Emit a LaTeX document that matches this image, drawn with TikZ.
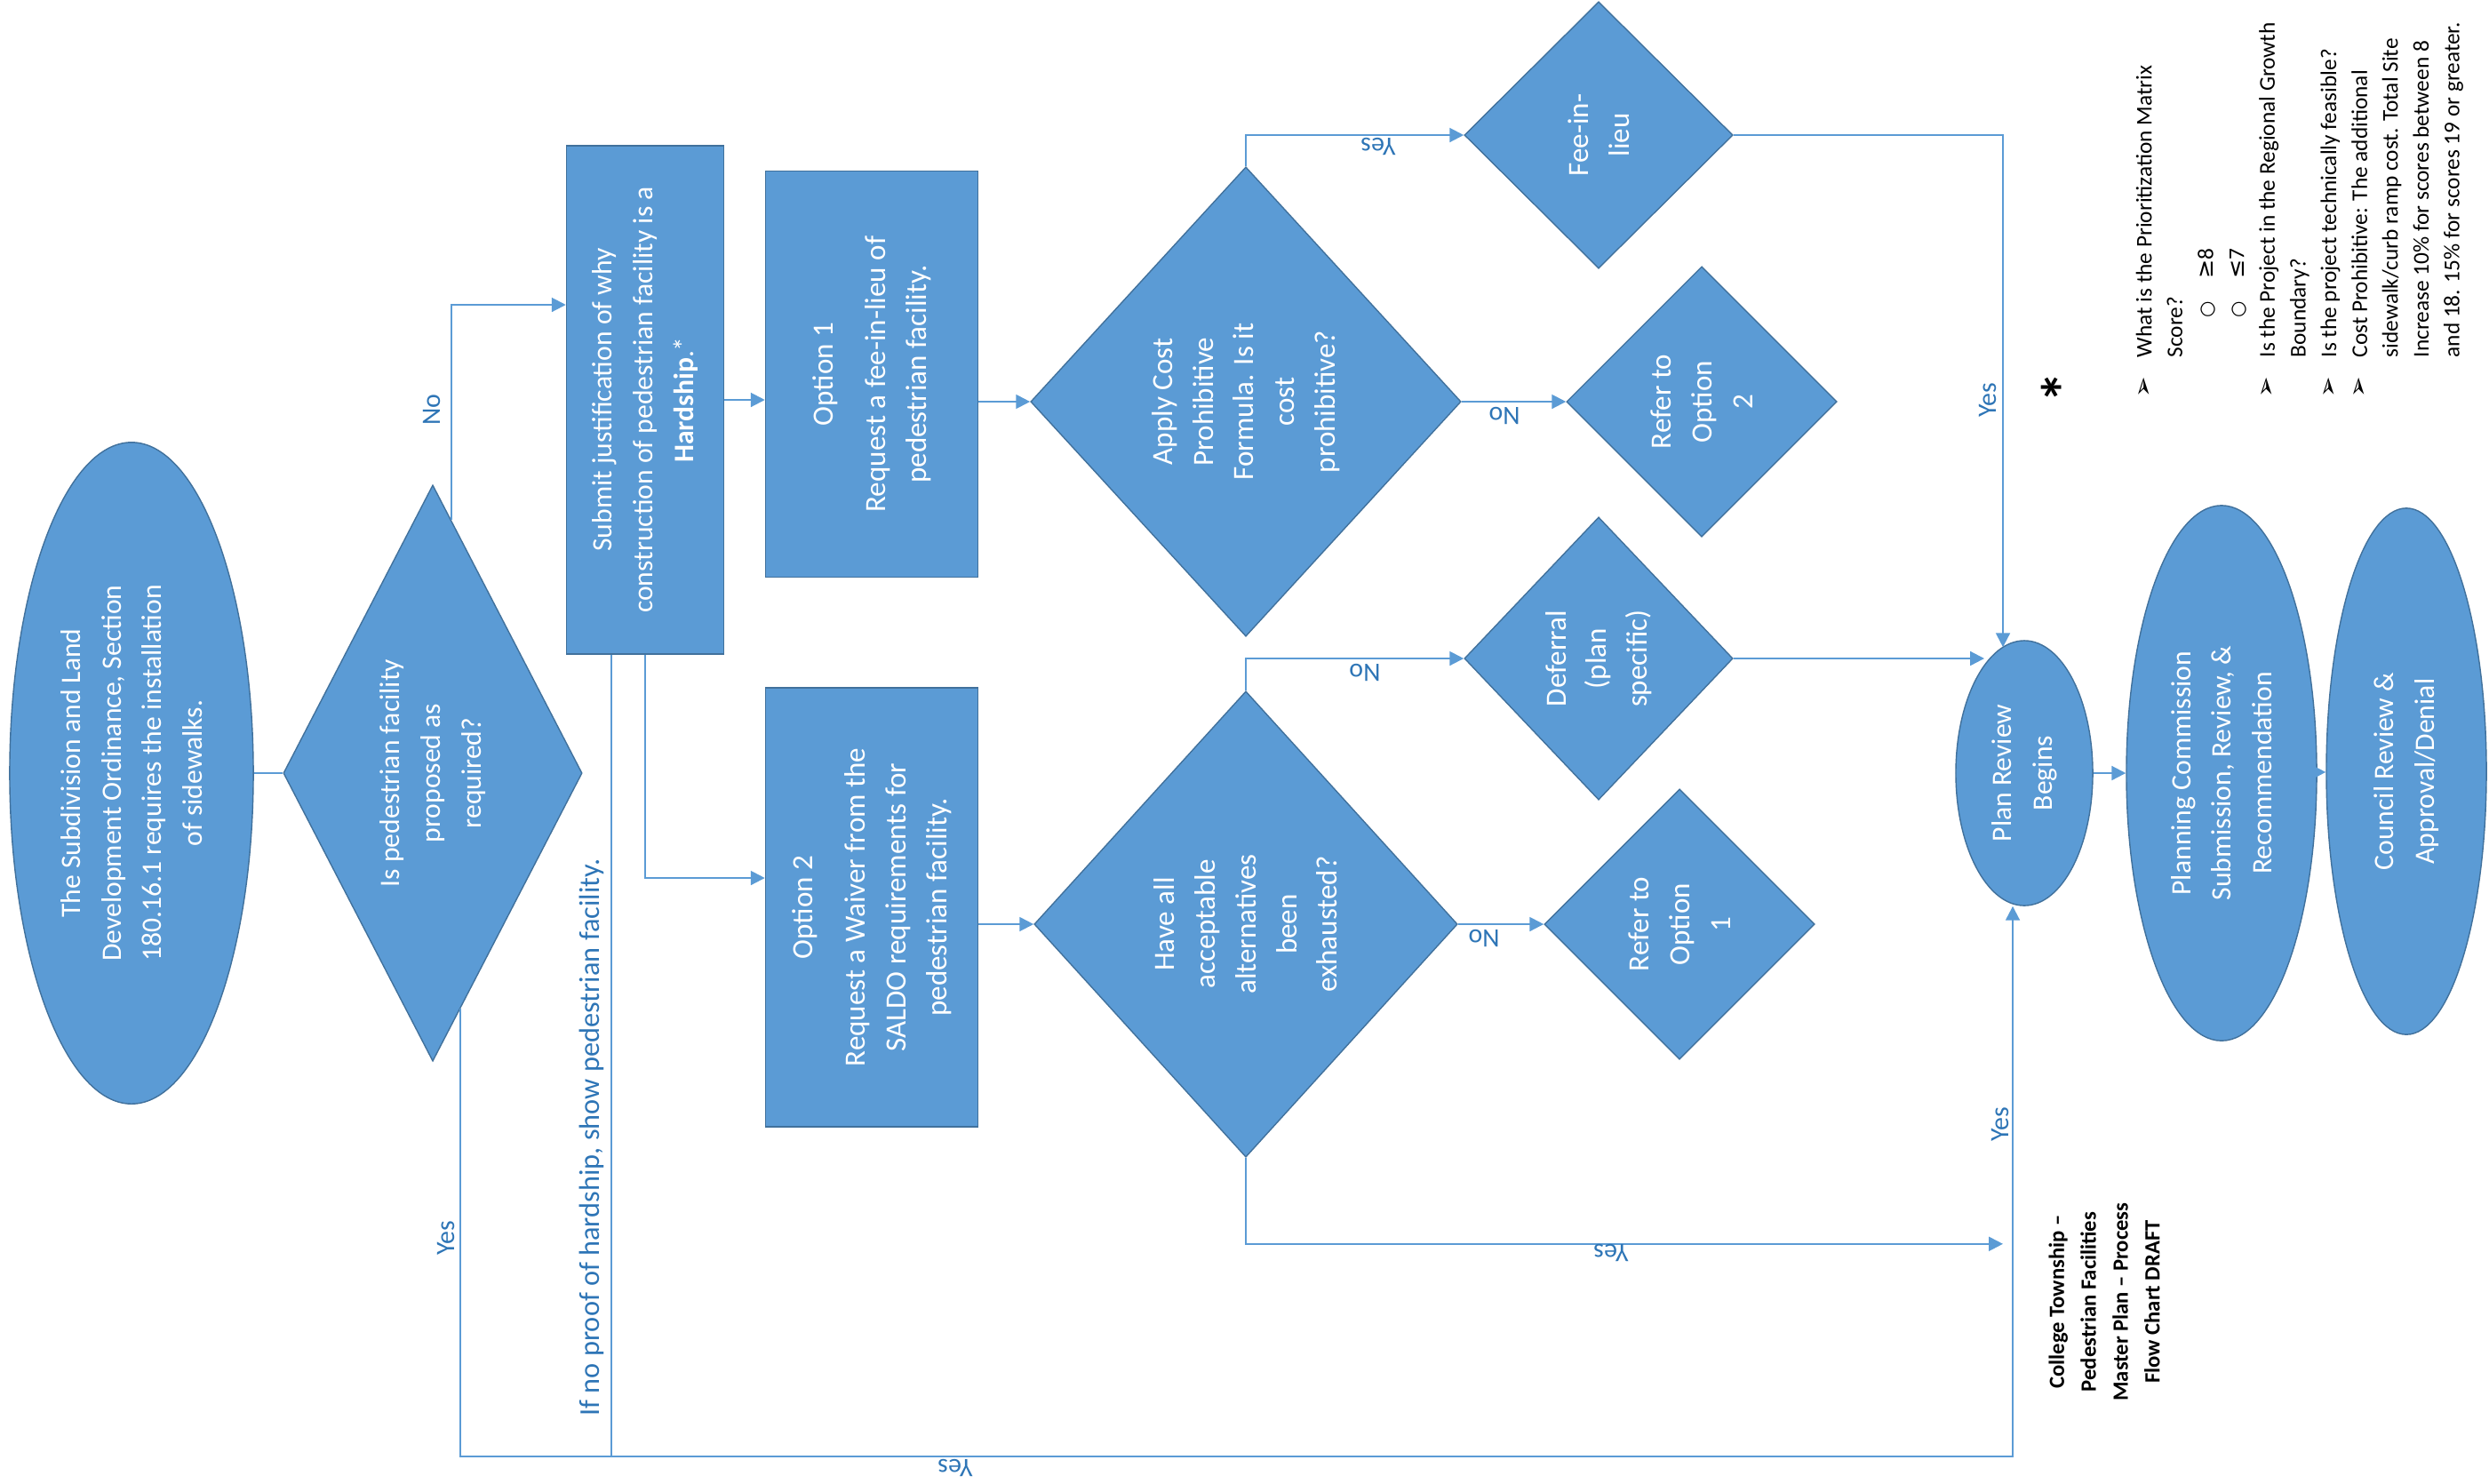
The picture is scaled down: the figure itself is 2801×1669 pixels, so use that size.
\documentclass[tikz,border=0pt]{standalone}
\usepackage{fontspec}
\setsansfont{Carlito}
\newfontfamily\symfont{DejaVu Sans}
\usepackage{tikz}
\usetikzlibrary{arrows.meta, calc, positioning, shapes.geometric}
\definecolor{boxblue}{HTML}{5B9BD5}
\definecolor{boxline}{HTML}{41719C}
\definecolor{tagblue}{HTML}{2E75B6}
\tikzset{every picture/.style={/utils/exec={\sffamily}}}
\newcommand\pointer{\makebox[0.45cm][l]{\symfont\fontsize{8}{9.85}\selectfont ➢}}
\newcommand\subpoint{\hspace*{0.9cm}\makebox[0.44cm][l]{\symfont\fontsize{6}{9.85}\selectfont ○}}

\begin{document}
\begin{tikzpicture}[x=0.01cm, y=0.01cm, >={Triangle[length=4.5pt, width=4.5pt]},
        box/.style={draw=boxline, fill=boxblue, text=white, rotate=90, inner sep=0pt, align=center, font=\fontsize{9}{13}\selectfont},
        widebox/.style={box, font=\fontsize{9.4}{13}\selectfont},
        oval/.style={box, ellipse},
        choice/.style={widebox, diamond},
        flow/.style={draw=boxblue, line width=0.6pt},
        tag/.style={text=tagblue, inner sep=0pt, font=\fontsize{8.5}{10}\selectfont}]
        \useasboundingbox (0,0) rectangle (2801,-1669);

        % Nodes
        \node[oval, minimum width=7.44cm, minimum height=2.74cm] (sldo) at (148,-870) {The Subdivision and Land\\Development Ordinance, Section\\180.16.1 requires the installation\\of sidewalks.};
        \node[choice, font=\fontsize{9}{13}\selectfont, shape aspect=1.93, minimum width=6.48cm, minimum height=3.36cm] (asreq) at (487,-870) {Is pedestrian facility\\proposed as\\required?};
        \node[box, minimum width=5.72cm, minimum height=1.77cm] (hard) at (726,-450) {Submit justification of why\\construction of pedestrian facility is a\\\textbf{Hardship}.*};
        \node[widebox, minimum width=4.57cm, minimum height=2.39cm] (opt1) at (981,-421) {Option 1\\[4pt]Request a fee-in-lieu of\\pedestrian facility.};
        \node[widebox, minimum width=4.94cm, minimum height=2.39cm] (opt2) at (981,-1021) {Option 2\\[4pt]Request a Waiver from the\\SALDO requirements for\\pedestrian facility.};
        \node[choice, shape aspect=1.09, minimum width=5.28cm, minimum height=4.84cm] (costq) at (1402,-452) {Apply Cost\\Prohibitive\\Formula. Is it\\cost\\prohibitive?};
        \node[choice, shape aspect=1.1, minimum width=5.24cm, minimum height=4.76cm] (altq) at (1402,-1040) {Have all\\acceptable\\alternatives\\been\\exhausted?};
        \node[choice, minimum width=3.0cm, minimum height=3.02cm] (fee) at (1799,-152) {Fee-in-\\lieu};
        \node[choice, minimum width=3.04cm, minimum height=3.04cm] (ref2) at (1915,-452) {Refer to\\Option\\2};
        \node[choice, shape aspect=1.05, minimum width=3.18cm, minimum height=3.02cm] (defer) at (1799,-741) {Deferral\\(plan\\specific)};
        \node[choice, minimum width=3.04cm, minimum height=3.04cm] (ref1) at (1890,-1040) {Refer to\\Option\\1};
        \node[oval, minimum width=2.98cm, minimum height=1.54cm] (plan) at (2278,-870) {Plan Review\\Begins};
        \node[oval, minimum width=6.02cm, minimum height=2.14cm] (pc) at (2500,-870) {Planning Commission\\Submission, Review, \&\\Recommendation};
        \node[oval, minimum width=5.92cm, minimum height=1.80cm] (council) at (2708,-868) {Council Review \&\\Approval/Denial};

        % Connectors
        \draw[flow] (sldo) -- (asreq);
        \draw[flow, ->] ($(asreq.east)+(21,-40)$) |- ($(hard.north)+(0,107)$);
        \draw[flow, ->] (hard.south) -- (hard.south -| opt1.north);
        \draw[flow, ->] (hard.west) |- ($(opt2.north)+(0,33)$);
        \draw[flow] ($(hard.west)+(-38,0)$) -- ++(0,-902);
        \draw[flow, ->] ($(asreq.west)+(31,60)$) -- ++(0,-504) -| ($(plan.west)+(-13,0)$);
        \draw[flow, ->] (opt1.south |- costq) -- (costq.north);
        \draw[flow, ->] (opt2.south |- altq) -- (altq.north);
        \draw[flow, ->] (costq.east) |- (fee.north);
        \draw[flow, ->] (costq.south) -- (ref2.north);
        \draw[flow, ->] (altq.east) |- (defer.north);
        \draw[flow, ->] (altq.south) -- (ref1.north);
        \draw[flow, ->] (altq.west) |- ($(plan.west)+(-24,-380)$);
        \draw[flow, ->] (fee.south) -| ($(plan.east)+(-24,-8)$);
        \draw[flow, ->] (defer.south) -- ($(plan)+(-45,129)$);
        \draw[flow, ->] (plan) -- (pc);
        \draw[flow, ->] (pc) -- (council);

        % Labels
        \node[tag, rotate=90] (no1) at (486,-461) {No};
        \node[tag, rotate=90] (yes1) at (502,-1393) {Yes};
        \node[tag, rotate=180] (yes2) at (1075,-1652) {Yes};
        \node[tag, rotate=90, font=\fontsize{9.2}{10}\selectfont] (proof) at (666,-1280) {If no proof of hardship, show pedestrian facility.};
        \node[tag, rotate=180] (yes3) at (1551,-165) {Yes};
        \node[tag, rotate=180] (no2) at (1693,-468) {No};
        \node[tag, rotate=180] (no3) at (1536,-757) {No};
        \node[tag, rotate=180] (no4) at (1670,-1056) {No};
        \node[tag, rotate=180] (yes4) at (1813,-1410) {Yes};
        \node[tag, rotate=90] (yes5) at (2237,-450) {Yes};
        \node[tag, rotate=90] (yes6) at (2251,-1265) {Yes};

        % Title and notes
        \node[rotate=90, align=center, font=\bfseries\fontsize{7}{10.2}\selectfont] (title) at (2368,-1465) {College Township –\\Pedestrian Facilities\\Master Plan – Process\\Flow Chart DRAFT};
        \node[rotate=90, font=\bfseries\fontsize{20}{20}\selectfont] (star) at (2322,-436) {*};
        \node[rotate=90, anchor=north west, inner sep=0pt, align=left, font=\fontsize{7.2}{9.85}\selectfont] (notes) at (2403,-448) {\pointer What is the Prioritization Matrix\\
            \hspace*{0.45cm}Score?\\
            \subpoint{\symfont ≥}8\\
            \subpoint{\symfont ≤}7\\
            \pointer Is the Project in the Regional Growth\\
            \hspace*{0.45cm}Boundary?\\
            \pointer Is the project technically feasible?\\
            \pointer Cost Prohibitive: The additional\\
            \hspace*{0.45cm}sidewalk/curb ramp cost. Total Site\\
            \hspace*{0.45cm}Increase 10\% for scores between 8\\
            \hspace*{0.45cm}and 18. 15\% for scores 19 or greater.};
\end{tikzpicture}
\end{document}
